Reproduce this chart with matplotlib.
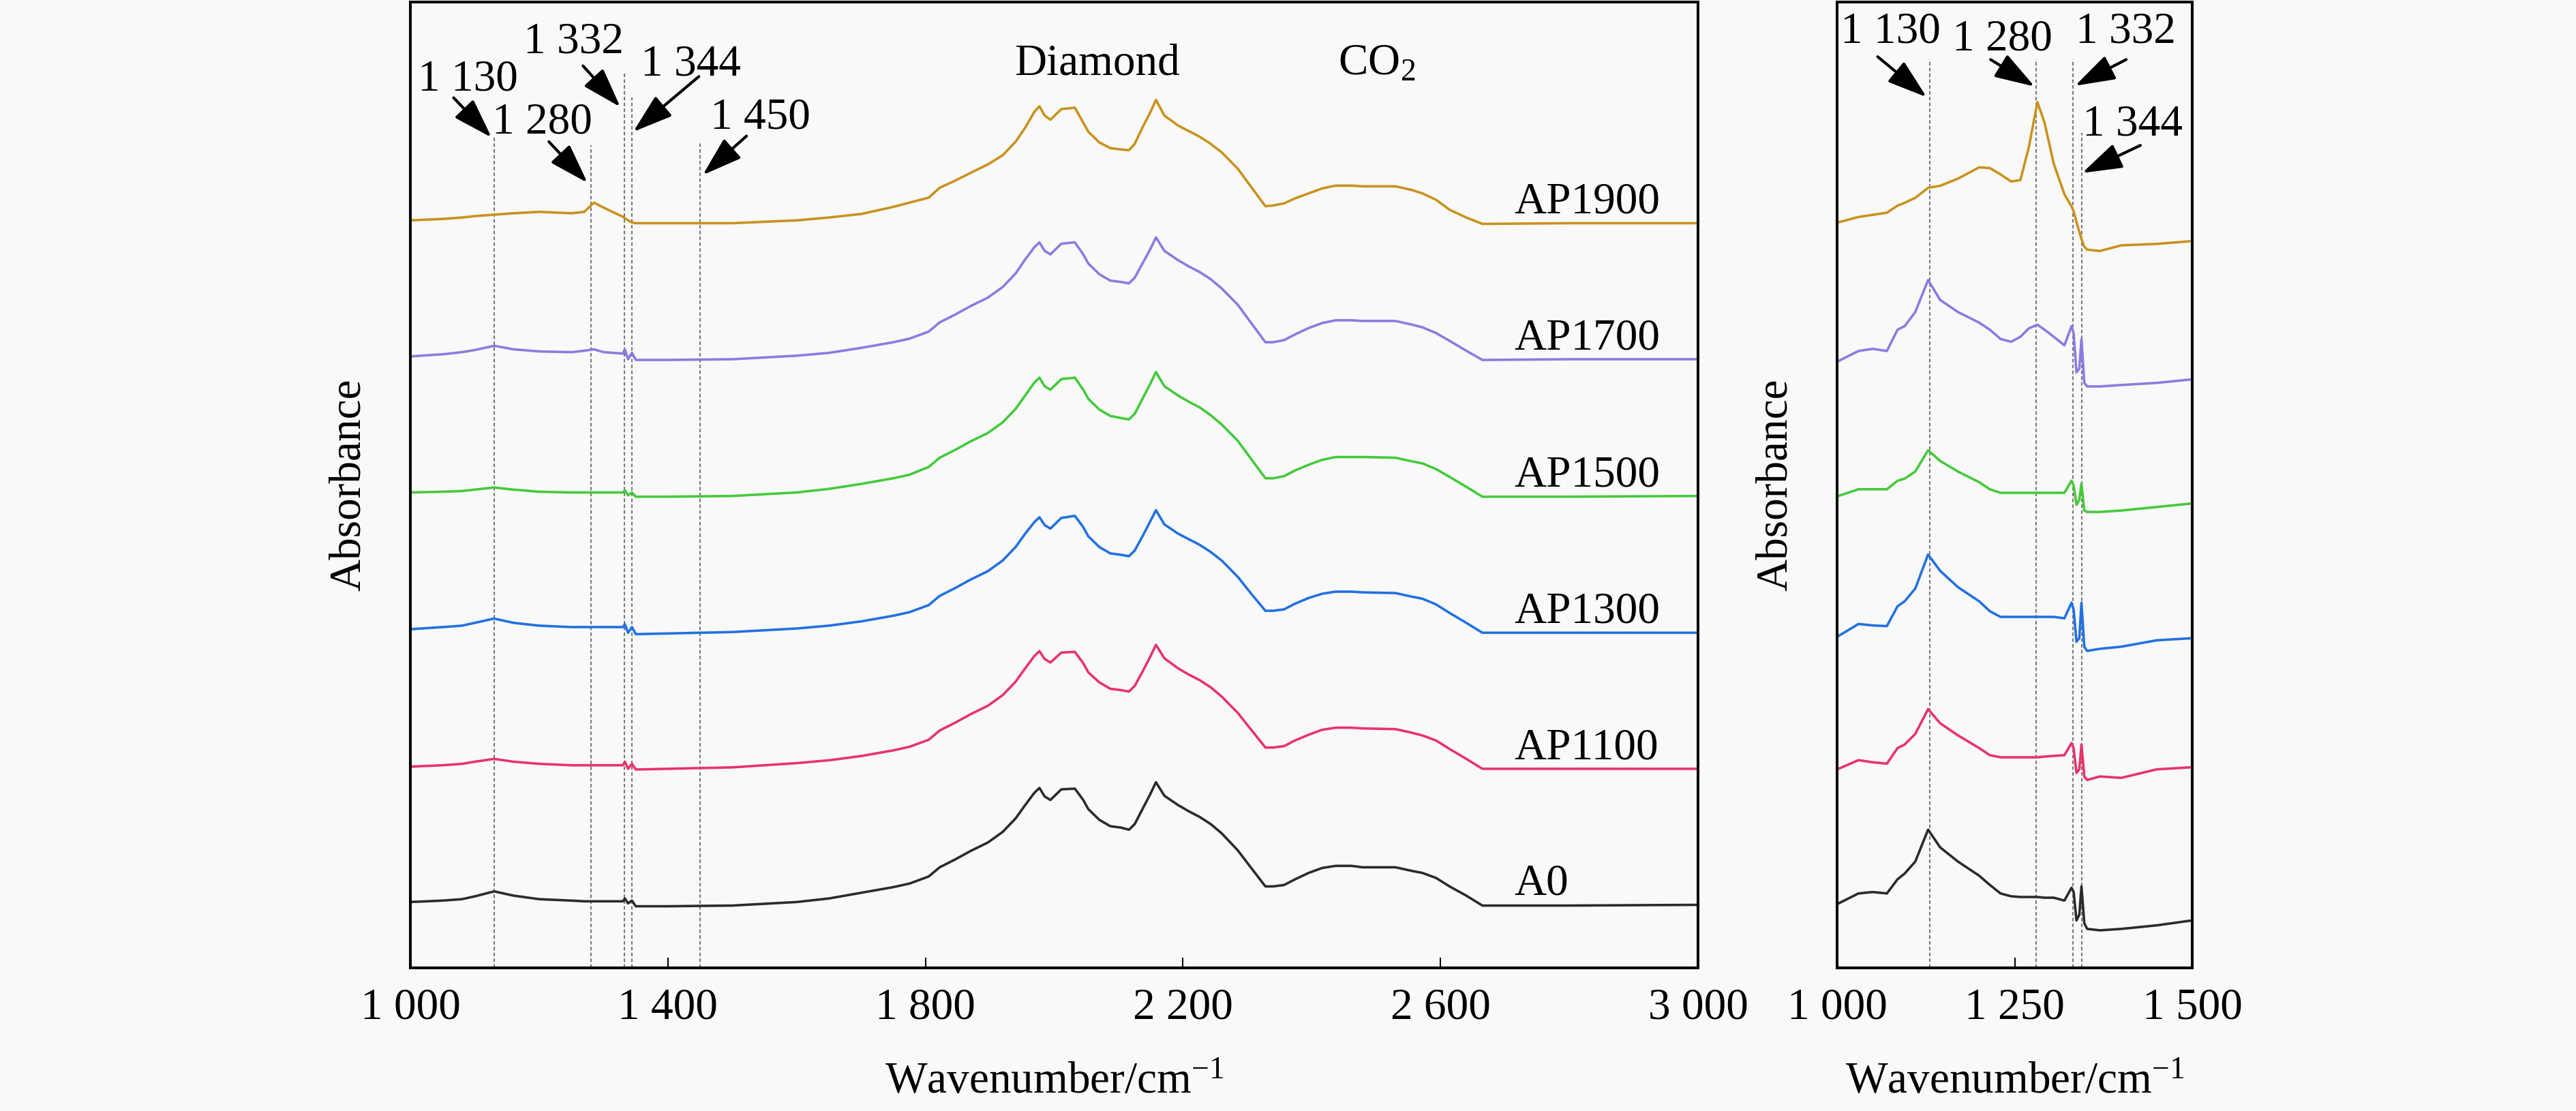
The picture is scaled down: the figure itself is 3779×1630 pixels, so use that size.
import matplotlib
matplotlib.use("Agg")
import matplotlib.pyplot as plt

plt.rcParams['font.family'] = ['Liberation Serif', 'DejaVu Serif']
plt.rcParams['mathtext.fontset'] = 'custom'
plt.rcParams['mathtext.rm'] = 'Liberation Serif'
plt.rcParams['mathtext.it'] = 'Liberation Serif:italic'
plt.rcParams['font.size'] = 47

# sample names and colours, bottom to top
samples = ['A0', 'AP1100', 'AP1300', 'AP1500', 'AP1700', 'AP1900']
colors = ['#2b2b2b', '#e8336b', '#2271e0', '#45c93c', '#8a7ce0', '#c9921e']

# ---- full range spectra (left panel), absorbance above each baseline ----
wn_full = [1000, 1050, 1080, 1100, 1130, 1160, 1200, 1250, 1270, 1285,
           1300, 1330, 1333, 1338, 1344, 1350, 1400, 1500,
           1600, 1650, 1700, 1750, 1775, 1805, 1822, 1846, 1870, 1897,
           1920, 1940, 1955, 1969, 1977, 1985, 1994, 2011, 2032, 2045,
           2053, 2070, 2087, 2104, 2116, 2125, 2137, 2149, 2158, 2171,
           2192, 2209, 2226, 2243, 2260, 2285, 2306, 2328, 2340, 2357,
           2374, 2395, 2416, 2437, 2462, 2479, 2530, 2555, 2572, 2593,
           2614, 2640, 2665, 2800, 3000]

a0_full = [.04, .06, .08, .12, .19, .13, .08, .06, .05, .05,
           .05, .05, .09, .02, .06, -.02, -.02, -.01,
           .04, .09, .17, .25, .30, .40, .53, .64, .76, .88,
           1.03, 1.22, 1.41, 1.58, 1.65, 1.53, 1.48, 1.63, 1.64, 1.48,
           1.35, 1.20, 1.11, 1.09, 1.06, 1.14, 1.35, 1.56, 1.73, 1.54,
           1.41, 1.32, 1.24, 1.14, 1.01, .77, .52, .26, .26, .28,
           .36, .45, .52, .55, .55, .53, .53, .48, .45, .38,
           .26, .13, -.01, -.01, 0]
ap1100_full = [.03, .05, .07, .10, .14, .10, .07, .05, .05, .05,
               .05, .05, .10, .00, .07, -.01, .00, .02,
               .08, .12, .18, .26, .31, .41, .54, .65, .77, .89,
               1.04, 1.23, 1.42, 1.59, 1.66, 1.55, 1.50, 1.64, 1.65, 1.49,
               1.36, 1.22, 1.13, 1.11, 1.09, 1.17, 1.37, 1.58, 1.75, 1.56,
               1.42, 1.33, 1.25, 1.15, 1.02, .79, .55, .30, .30, .32,
               .40, .48, .55, .58, .58, .57, .56, .51, .47, .40,
               .28, .14, 0, 0, 0]
ap1300_full = [.05, .08, .10, .14, .20, .14, .10, .08, .08, .08,
               .08, .08, .12, .00, .08, -.02, -.01, .01,
               .06, .10, .16, .24, .29, .39, .52, .63, .75, .87,
               1.02, 1.21, 1.40, 1.56, 1.63, 1.52, 1.47, 1.62, 1.65, 1.49,
               1.36, 1.21, 1.12, 1.10, 1.08, 1.16, 1.36, 1.57, 1.73, 1.53,
               1.40, 1.32, 1.24, 1.14, 1.02, .79, .55, .31, .31, .33,
               .41, .49, .55, .58, .58, .57, .56, .51, .48, .40,
               .28, .14, 0, 0, 0]
ap1500_full = [.05, .06, .07, .09, .12, .09, .06, .05, .05, .05,
               .05, .05, .08, .01, .05, -.01, -.01, 0,
               .05, .10, .17, .25, .30, .41, .54, .65, .77, .89,
               1.04, 1.23, 1.42, 1.60, 1.67, 1.55, 1.50, 1.65, 1.67, 1.50,
               1.37, 1.22, 1.13, 1.10, 1.08, 1.16, 1.37, 1.58, 1.75, 1.55,
               1.42, 1.33, 1.25, 1.14, 1.01, .78, .52, .25, .25, .28,
               .36, .44, .51, .55, .55, .55, .54, .49, .46, .38,
               .27, .13, -.01, -.01, 0]
ap1700_full = [.04, .07, .10, .13, .19, .14, .11, .10, .12, .14,
               .10, .08, .14, .00, .09, -.01, -.01, 0,
               .05, .09, .16, .24, .29, .39, .52, .63, .75, .87,
               1.02, 1.21, 1.41, 1.58, 1.65, 1.53, 1.48, 1.63, 1.65, 1.48,
               1.35, 1.20, 1.11, 1.09, 1.07, 1.15, 1.35, 1.55, 1.72, 1.53,
               1.40, 1.31, 1.23, 1.13, 1.00, .77, .51, .24, .24, .27,
               .35, .44, .51, .55, .55, .54, .54, .49, .45, .37,
               .26, .12, -.01, 0, 0]
ap1900_full = [.04, .06, .08, .10, .12, .14, .16, .14, .16, .29,
               .22, .09, .07, .04, .01, 0, 0, 0,
               .04, .08, .13, .23, .29, .36, .50, .60, .71, .83,
               .96, 1.15, 1.35, 1.57, 1.65, 1.52, 1.46, 1.61, 1.63, 1.42,
               1.29, 1.14, 1.06, 1.04, 1.03, 1.12, 1.35, 1.56, 1.74, 1.52,
               1.38, 1.30, 1.22, 1.12, 1.00, .77, .51, .24, .25, .28,
               .35, .42, .49, .53, .53, .52, .52, .47, .42, .33,
               .19, .08, -.01, 0, 0]
full_spectra = [a0_full, ap1100_full, ap1300_full, ap1500_full, ap1700_full, ap1900_full]
full_offsets = [0.89, 2.81, 4.73, 6.66, 8.59, 10.51]

# ---- zoomed spectra 1000-1500 (right panel) ----
wn_zoom = [1000, 1030, 1050, 1070, 1085, 1095, 1110, 1128, 1145, 1170,
           1200, 1215, 1230, 1245, 1258, 1270, 1282, 1292, 1305, 1320,
           1330, 1333, 1337, 1341, 1344, 1348, 1352, 1370, 1400, 1450, 1500]

a0_zoom = [0, .15, .17, .15, .35, .43, .60, 1.05, .80, .60,
           .40, .27, .15, .11, .10, .10, .10, .09, .09, .05,
           .23, .17, -.23, -.15, .25, -.27, -.35, -.37, -.35, -.30, -.23]
ap1100_zoom = [0, .13, .10, .08, .30, .35, .50, .85, .65, .48,
               .30, .20, .17, .17, .17, .17, .17, .18, .19, .20,
               .37, .30, -.05, 0, .35, -.10, -.15, -.10, -.12, 0, .03]
ap1300_zoom = [0, .18, .16, .15, .43, .50, .68, 1.16, .93, .70,
               .50, .36, .28, .28, .28, .28, .28, .28, .28, .26,
               .48, .38, -.07, -.02, .48, -.14, -.20, -.17, -.14, -.05, -.02]
ap1500_zoom = [0, .10, .10, .10, .22, .25, .35, .65, .50, .35,
               .20, .10, .05, .05, .05, .05, .05, .05, .05, .05,
               .22, .15, -.12, -.05, .18, -.20, -.22, -.22, -.20, -.15, -.10]
ap1700_zoom = [0, .15, .18, .15, .45, .50, .70, 1.15, .87, .70,
               .55, .45, .32, .28, .35, .47, .52, .45, .35, .23,
               .50, .40, -.15, -.10, .32, -.30, -.35, -.35, -.33, -.30, -.25]
ap1900_zoom = [0, .08, .11, .14, .24, .28, .35, .49, .52, .62,
               .78, .77, .68, .58, .60, 1.07, 1.70, 1.41, .83, .40,
               .23, .16, .01, -.13, -.23, -.34, -.38, -.40, -.32, -.30, -.26]
zoom_spectra = [a0_zoom, ap1100_zoom, ap1300_zoom, ap1500_zoom, ap1700_zoom, ap1900_zoom]
zoom_offsets = [0.90, 2.80, 4.67, 6.65, 8.55, 10.51]

# marked bands
left_bands = [1130, 1280, 1332, 1344, 1450]
left_band_labels = ['1 130', '1 280', '1 332', '1 344', '1 450']
right_bands = [1130, 1280, 1332, 1344]
right_band_labels = ['1 130', '1 280', '1 332', '1 344']

full_ticks = [1000, 1400, 1800, 2200, 2600, 3000]
full_ticklabels = ['1 000', '1 400', '1 800', '2 200', '2 600', '3 000']
zoom_ticks = [1000, 1250, 1500]
zoom_ticklabels = ['1 000', '1 250', '1 500']

# annotation layout (text baseline, arrow tail, arrow tip, top of dashed line)
left_text_pos = [(1089, 12.39), (1205, 11.78), (1253, 12.91), (1436, 12.60), (1544, 11.85)]
left_tails = [(1067, 12.28), (1215, 11.66), (1268, 12.73), (1448, 12.58), (1522, 11.74)]
left_tips = [(1126, 11.72), (1275, 11.08), (1326, 12.15), (1346, 11.80), (1454, 11.19)]
left_tops = [11.74, 11.61, 12.63, 12.28, 11.66]

right_text_pos = [(1075, 13.05), (1233, 12.94), (1406, 13.05), (1416, 11.74)]
right_tails = [(1057, 12.85), (1216, 12.81), (1407, 12.81), (1427, 11.60)]
right_tips = [(1126, 12.28), (1278, 12.43), (1335, 12.44), (1345, 11.21)]
right_tops = [12.81, 12.81, 12.81, 11.78]

bg = '#f9f9f9'
fig = plt.figure(figsize=(37.8, 16.3), dpi=100, facecolor=bg)
ax1 = fig.add_axes([0.1593, 0.1288, 0.4997, 0.8693], facecolor=bg)
ax2 = fig.add_axes([0.7130, 0.1288, 0.1378, 0.8693], facecolor=bg)


def style_axes(ax, xlim, ylim, ticks, ticklabels, ylab_x):
    ax.set_xlim(*xlim)
    ax.set_ylim(*ylim)
    ax.set_xticks(ticks)
    ax.set_xticklabels(ticklabels)
    ax.set_yticks([])
    ax.tick_params(axis='x', direction='in', length=11, width=1.5, pad=21)
    for s in ax.spines.values():
        s.set_linewidth(2.9)
        s.set_color('black')
    ax.set_xlabel('Wavenumber/cm$^{-1}$')
    ax.xaxis.set_label_coords(0.5, -0.097)
    ax.set_ylabel('Absorbance')
    ax.yaxis.set_label_coords(ylab_x, 0.5)


def draw_arrows(ax, labels, text_pos, tails, tips):
    for lab, tp, tl, tip in zip(labels, text_pos, tails, tips):
        ax.text(tp[0], tp[1], lab, ha='center', va='baseline')
        ax.annotate('', xy=tip, xytext=tl,
                    arrowprops=dict(arrowstyle='-|>,head_length=0.4,head_width=0.13',
                                    color='black', lw=3, mutation_scale=90,
                                    shrinkA=0, shrinkB=0))


# left panel
for wn, top in zip(left_bands, left_tops):
    ax1.vlines(wn, 0, top, colors='#7a7a7a', linestyles=(0, (2.5, 1.6)), lw=1.5, zorder=1)
for name, spec, off, c in zip(samples, full_spectra, full_offsets, colors):
    ax1.plot(wn_full, [v + off for v in spec], color=c, lw=2.6, zorder=2)
    ax1.text(2714, off + 0.14, name, ha='left', va='baseline')
ax1.text(2067, 12.61, 'Diamond', ha='center', va='baseline')
ax1.text(2501, 12.61, 'CO$_2$', ha='center', va='baseline')
draw_arrows(ax1, left_band_labels, left_text_pos, left_tails, left_tips)
style_axes(ax1, (1000, 3000), (0, 13.63), full_ticks, full_ticklabels, -0.032)

# right panel
for wn, top in zip(right_bands, right_tops):
    ax2.vlines(wn, 0, top, colors='#7a7a7a', linestyles=(0, (2.5, 1.6)), lw=1.5, zorder=1)
for spec, off, c in zip(zoom_spectra, zoom_offsets, colors):
    ax2.plot(wn_zoom, [v + off for v in spec], color=c, lw=2.6, zorder=2)
draw_arrows(ax2, right_band_labels, right_text_pos, right_tails, right_tips)
style_axes(ax2, (1000, 1500), (0, 13.62), zoom_ticks, zoom_ticklabels, -0.115)

fig.savefig('out.png', dpi=100, facecolor=bg)
